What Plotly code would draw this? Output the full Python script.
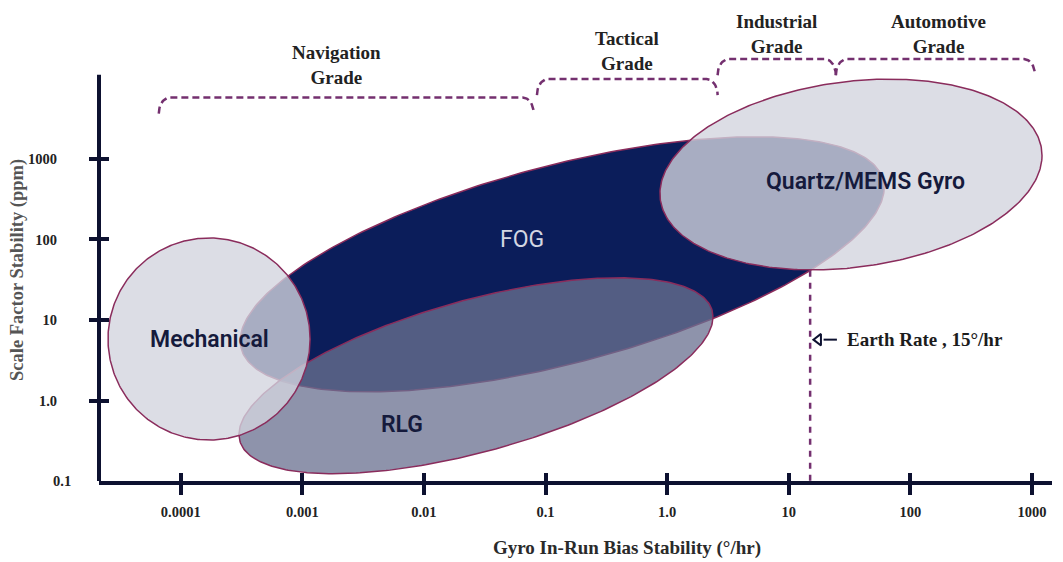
import numpy as np
import plotly.graph_objects as go

# ---- axis ticks ----
x_ticks = [1e-4, 1e-3, 1e-2, 1e-1, 1, 10, 100, 1000]
x_tick_text = ["0.0001", "0.001", "0.01", "0.1", "1.0", "10", "100", "1000"]
y_ticks = [1, 10, 100, 1000]
y_tick_text = ["1.0", "10", "100", "1000"]
y_floor = 0.1
y_floor_text = "0.1"
y_axis_top = 11100

# ---- gyro technology regions (centre, half extent in decades, tilt) ----
tech_names = ["FOG", "RLG", "Quartz/MEMS Gyro", "Mechanical"]
tech_center_x = [0.137, 0.0268, 32.5, 1.71e-4]
tech_center_y = [49.2, 2.03, 641, 5.81]
tech_half_w = [2.648, 1.949, 1.571, 0.831]
tech_half_h = [1.584, 1.217, 1.185, 1.255]
tech_tilt = [0.6, 0.6, 0.2, 0.0]
tech_label_x = [0.0637, 0.0066, 42.8, 1.72e-4]
tech_label_y = [99, 0.499, 525, 5.68]

# ---- performance grades ----
grade_names = ["Navigation<br>Grade", "Tactical<br>Grade",
               "Industrial<br>Grade", "Automotive<br>Grade"]
grade_start = [6.6e-5, 0.085, 2.6, 24.4]
grade_end = [0.08, 2.6, 24.4, 1060]
grade_level = [5800, 9850, 17400, 17400]
grade_label_x = [0.00192, 0.468, 7.98, 172]
grade_label_y = [14800, 22200, 35600, 35600]

# ---- earth rate marker ----
earth_rate = 15
earth_rate_top = 41
earth_label_y = 5.7
earth_label = "Earth Rate , 15°/hr"

AX = "#0d1130"
EDGE = "#8a2c5c"
DASH = "#74306f"
SERIF = "Liberation Serif"
SANS = "Roboto"

fills = ["rgb(11,29,90)", "rgba(106,113,145,0.76)",
         "rgba(211,212,222,0.79)", "rgba(211,212,222,0.79)"]
label_colors = ["#d3d6e2", "#151a3c", "#151a3c", "#151a3c"]
label_weights = [400, 600, 600, 600]

X_RANGE = [-4.672, 3.165]
Y_RANGE = [-1.0, 4.975]


def region(cx, cy, w, h, rho, n=360):
    t = np.linspace(0, 2 * np.pi, n)
    lx = np.log10(cx) + w * np.cos(t)
    ly = np.log10(cy) + h * (rho * np.cos(t) + np.sqrt(1 - rho ** 2) * np.sin(t))
    return 10 ** lx, 10 ** ly


def bracket(x0, x1, level, drop=0.2, corner=0.09, n=14):
    lx0, lx1, ly = np.log10(x0), np.log10(x1), np.log10(level)
    th = np.linspace(0, np.pi / 2, n)
    left_x = lx0 + corner - corner * np.cos(th)
    left_y = ly - drop + drop * np.sin(th)
    th_r = th[::-1]
    right_x = lx1 - corner + corner * np.cos(th_r)
    right_y = ly - drop + drop * np.sin(th_r)
    return 10 ** np.concatenate([left_x, right_x]), 10 ** np.concatenate([left_y, right_y])


fig = go.Figure()

# technology regions, drawn back to front
for i, name in enumerate(tech_names):
    xs, ys = region(tech_center_x[i], tech_center_y[i], tech_half_w[i],
                    tech_half_h[i], tech_tilt[i])
    fig.add_trace(go.Scatter(
        x=xs, y=ys, mode="lines", fill="toself", fillcolor=fills[i],
        line=dict(color=EDGE, width=1.5), name=name, hoverinfo="name"))

# grade brackets
for i in range(len(grade_names)):
    bx, by = bracket(grade_start[i], grade_end[i], grade_level[i])
    fig.add_trace(go.Scatter(
        x=bx, y=by, mode="lines", line=dict(color=DASH, width=2.5, dash="7px,4px"),
        hoverinfo="skip"))

# earth rate line (on the overlay axes, which carry the inner tick marks)
fig.add_trace(go.Scatter(
    x=[earth_rate, earth_rate], y=[earth_rate_top, y_floor], mode="lines",
    line=dict(color=DASH, width=2.5, dash="6px,6px"),
    xaxis="x2", yaxis="y2", hoverinfo="skip"))

# arrow pointing at the earth rate line
arrow_x = earth_rate * np.array([1.17, 1.29, 1.66])
fig.add_trace(go.Scatter(
    x=arrow_x[1:], y=[earth_label_y] * 2, mode="lines",
    line=dict(color=AX, width=2), hoverinfo="skip"))
fig.add_trace(go.Scatter(
    x=arrow_x[:1], y=[earth_label_y], mode="markers",
    marker=dict(symbol="triangle-left-open", size=10, color=AX,
                line=dict(color=AX, width=2)),
    hoverinfo="skip"))

annotations = []
for i, name in enumerate(tech_names):
    annotations.append(dict(
        x=np.log10(tech_label_x[i]), y=np.log10(tech_label_y[i]), text=name,
        showarrow=False, xanchor="center", yanchor="middle",
        font=dict(family=SANS, size=23, color=label_colors[i], weight=label_weights[i])))

for i, name in enumerate(grade_names):
    annotations.append(dict(
        x=np.log10(grade_label_x[i]), y=np.log10(grade_label_y[i]), text=name,
        showarrow=False, xanchor="center", yanchor="middle",
        font=dict(family=SERIF, size=19, color="#222222", weight="bold")))

annotations.append(dict(
    x=np.log10(earth_rate * 1.95), y=np.log10(earth_label_y), text=earth_label,
    showarrow=False, xanchor="left", yanchor="middle",
    font=dict(family=SERIF, size=19, color="#1c1c1c", weight="bold")))

annotations.append(dict(
    xref="paper", x=0, y=np.log10(y_floor), text=y_floor_text, showarrow=False,
    xanchor="right", yanchor="middle", xshift=-26,
    font=dict(family=SERIF, size=14.5, color="#222222", weight="bold")))

annotations.append(dict(
    xref="paper", yref="paper", x=0.5544, y=0, yshift=-67,
    text="Gyro In-Run Bias Stability (°/hr)", showarrow=False,
    xanchor="center", yanchor="middle",
    font=dict(family=SERIF, size=19, color="#2a2a2a", weight="bold")))

annotations.append(dict(
    xref="paper", yref="paper", x=0, xshift=-81, y=0.4387,
    text="Scale Factor Stability (ppm)", showarrow=False, textangle=-90,
    xanchor="center", yanchor="middle",
    font=dict(family=SERIF, size=18.5, color="#555555", weight="bold")))

tick_font = dict(family=SERIF, size=14.5, color="#222222", weight="bold")

fig.update_layout(
    width=1063, height=562,
    margin=dict(l=99, r=11, t=0, b=81),
    paper_bgcolor="white", plot_bgcolor="white",
    showlegend=False,
    xaxis=dict(type="log", range=X_RANGE, tickvals=x_ticks, ticktext=x_tick_text,
               ticks="outside", ticklen=10, tickwidth=4, tickcolor=AX,
               showline=True, linewidth=4, linecolor=AX,
               showgrid=False, zeroline=False, tickfont=tick_font,
               ticklabelstandoff=5, fixedrange=True),
    xaxis2=dict(type="log", range=X_RANGE, overlaying="x", anchor="y", side="bottom",
                tickvals=x_ticks, ticks="inside", ticklen=8, tickwidth=4,
                tickcolor=AX, showticklabels=False, showline=False,
                showgrid=False, zeroline=False, fixedrange=True),
    yaxis=dict(type="log", range=Y_RANGE, tickvals=y_ticks, ticktext=y_tick_text,
               ticks="outside", ticklen=9, tickwidth=4, tickcolor=AX,
               showline=False, showgrid=False, zeroline=False,
               tickfont=tick_font, ticklabelstandoff=29, fixedrange=True),
    yaxis2=dict(type="log", range=Y_RANGE, overlaying="y", anchor="x", side="left",
                tickvals=y_ticks, ticks="inside", ticklen=10, tickwidth=4,
                tickcolor=AX, showticklabels=False, showline=False,
                showgrid=False, zeroline=False, fixedrange=True),
    shapes=[dict(type="line", xref="paper", x0=0, x1=0, yref="y",
                 y0=y_floor, y1=y_axis_top, layer="above",
                 line=dict(color=AX, width=4))],
    annotations=annotations,
)

fig.write_html("out.html")
